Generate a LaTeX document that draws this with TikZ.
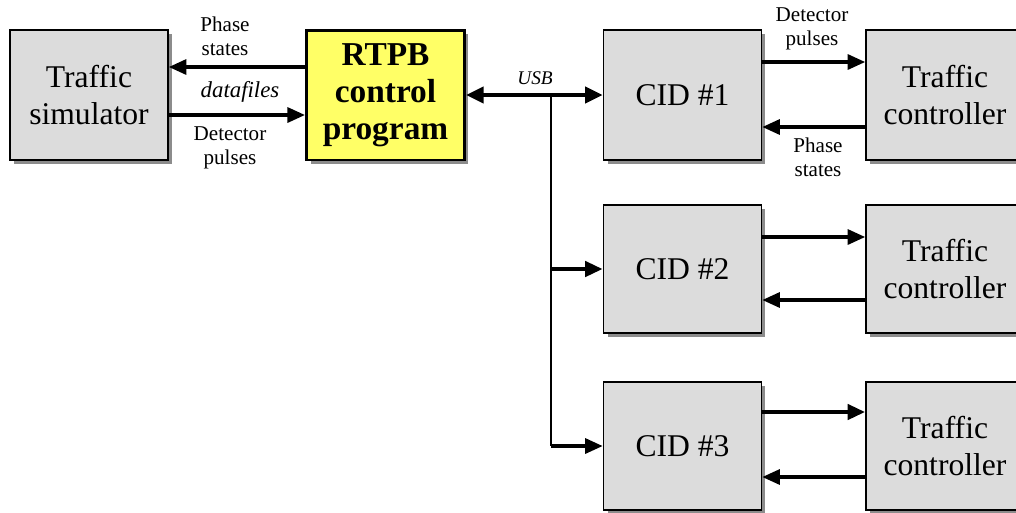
\documentclass[tikz,border=0pt]{standalone}
\usepackage{fontspec}
\setmainfont{Liberation Serif}
\usepackage{xcolor}
\definecolor{boxgray}{HTML}{DCDCDC}
\definecolor{progyellow}{HTML}{FFFF66}
\usepackage{tikz}
\usetikzlibrary{arrows.meta,calc,shadows}

\begin{document}
\begin{tikzpicture}[x=0.02cm, y=-0.02cm,
    block/.style={draw, fill=boxgray, line width=0.9pt, minimum width=3.16cm, minimum height=2.6cm,
      align=center, font=\fontsize{18}{21}\selectfont,
      drop shadow={shadow xshift=0.08cm, shadow yshift=-0.08cm, fill=black!45, opacity=1}},
    prog/.style={block, fill=progyellow, line width=1.7pt, font=\bfseries\fontsize{19}{21}\selectfont},
    sig/.style={-{Triangle[length=10pt,width=8.5pt]}, line width=1.9pt},
    usb/.style={{Triangle[length=10pt,width=9pt]}-{Triangle[length=10pt,width=9pt]}, line width=2.8pt},
    busline/.style={line width=1.1pt},
    siglabel/.style={font=\fontsize{12}{13.6}\selectfont, align=center}]
  % frame of the picture
  \clip (0,0) rectangle (1016,512);
  % left part: simulator and control program
  \node[block] (sim) at (89,95) {Traffic\\simulator};
  \node[prog] (rtpb) at (385.5,95) {RTPB\\control\\program};
  \draw[sig] ($(rtpb.west)+(0,-28)$) -- ($(sim.east)+(0,-28)$);
  \draw[sig] ($(sim.east)+(0,20)$) -- ($(rtpb.west)+(0,20)$);
  \node[siglabel] (psa) at (225,36) {Phase\\states};
  \node[siglabel, font=\itshape\fontsize{13}{14}\selectfont] (files) at (240,92) {datafiles};
  \node[siglabel] (dpa) at (230,148) {Detector\\pulses};
  % interface devices and controllers
  \node[block] (cid1) at (682.5,95) {CID \#1};
  \node[block] (tc1) at (945,95) {Traffic\\controller};
  \node[block, minimum height=2.56cm] (cid2) at (682.5,269) {CID \#2};
  \node[block, minimum height=2.56cm] (tc2) at (945,269) {Traffic\\controller};
  \node[block, minimum height=2.56cm] (cid3) at (682.5,446) {CID \#3};
  \node[block, minimum height=2.56cm] (tc3) at (945,446) {Traffic\\controller};
  % USB bus
  \draw[usb] (rtpb.east) -- (cid1.west);
  \node[siglabel, font=\itshape\fontsize{11}{13}\selectfont] (usblabel) at (535,78) {USB};
  \coordinate (tap) at (551,95);
  \draw[busline] (tap) -- (tap |- cid3.west);
  \draw[sig, line width=2.8pt] (tap |- cid2.west) -- (cid2.west);
  \draw[sig] (tap |- cid3.west) -- (cid3.west);
  % signals between CIDs and controllers
  \draw[sig] ($(cid1.east)+(0,-33)$) -- ($(tc1.west)+(0,-33)$);
  \draw[sig] ($(tc1.west)+(0,32)$) -- ($(cid1.east)+(0,32)$);
  \node[siglabel] (dpb) at (812,29) {Detector\\pulses};
  \node[siglabel] (psb) at (818,157) {Phase\\states};
  \draw[sig] ($(cid2.east)+(0,-32)$) -- ($(tc2.west)+(0,-32)$);
  \draw[sig] ($(tc2.west)+(0,31)$) -- ($(cid2.east)+(0,31)$);
  \draw[sig, line width=2.8pt] ($(cid3.east)+(0,-34)$) -- ($(tc3.west)+(0,-34)$);
  \draw[sig] ($(tc3.west)+(0,31)$) -- ($(cid3.east)+(0,31)$);
\end{tikzpicture}
\end{document}
